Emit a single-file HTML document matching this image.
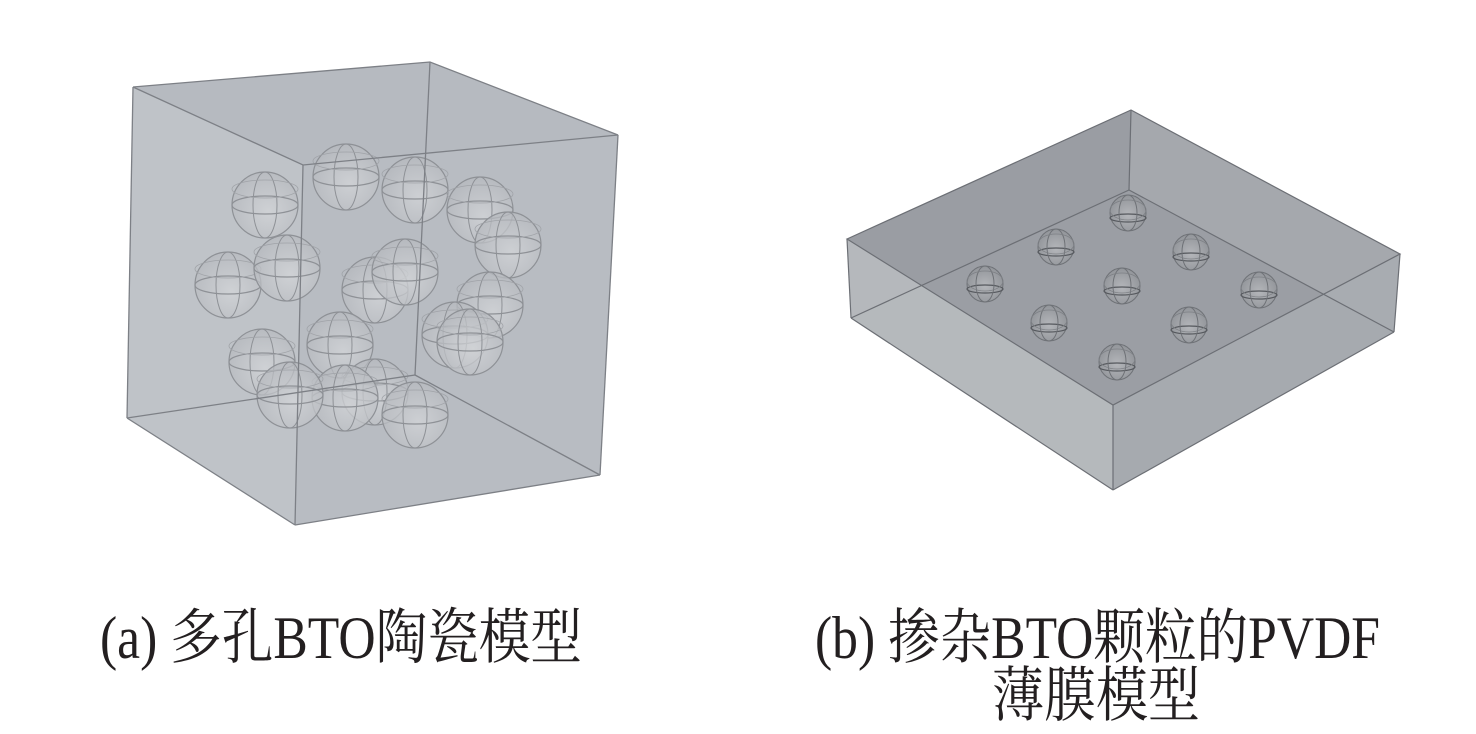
<!DOCTYPE html>
<html><head><meta charset="utf-8"><style>
html,body{margin:0;padding:0;background:#fff;width:1476px;height:734px;overflow:hidden}
text{font-family:"Liberation Serif","Noto Serif CJK SC",serif;fill:#231f20}
</style></head><body>
<svg width="1476" height="734" viewBox="0 0 1476 734" xmlns="http://www.w3.org/2000/svg">
<defs>
<radialGradient id="sg" cx="0.55" cy="0.6" r="0.6">
<stop offset="0" stop-color="#d4d6d9"/><stop offset="1" stop-color="#b6b9be"/>
</radialGradient>
<radialGradient id="sg2" cx="0.5" cy="0.55" r="0.6">
<stop offset="0" stop-color="#b4b6ba"/><stop offset="1" stop-color="#8f9297"/>
</radialGradient>
<g id="sph">
<circle r="33" fill="url(#sg)" fill-opacity="0.75" stroke="#8e9196" stroke-width="1.2"/>
<ellipse rx="33" ry="9" fill="none" stroke="#8e9196" stroke-width="1.2"/>
<ellipse rx="12" ry="33" fill="none" stroke="#8e9196" stroke-width="1"/>
<ellipse rx="33" ry="9" cy="-16" fill="none" stroke="#a0a3a8" stroke-width="0.8"/>
</g>
<g id="sb">
<circle r="18" fill="url(#sg2)" stroke="#6f7277" stroke-width="1"/>
<ellipse rx="18" ry="4" cy="5" fill="none" stroke="#55585d" stroke-width="1.2"/>
<ellipse rx="9" ry="18" fill="none" stroke="#6f7277" stroke-width="1"/>
<ellipse rx="18" ry="10" cy="-3" fill="none" stroke="#7d8085" stroke-width="0.8"/>
</g>
</defs>
<polygon points="133,87 430,62 618,135 600,475 295,525 127,418" fill="#bfc3c8"/>
<polygon points="303,165 618,135 600,475 295,525" fill="#b8bcc2"/>
<polygon points="133,87 430,62 618,135 303,165" fill="#b6bac0"/>
<g>
<use href="#sph" x="346" y="177"/>
<use href="#sph" x="265" y="205"/>
<use href="#sph" x="415" y="190"/>
<use href="#sph" x="480" y="210"/>
<use href="#sph" x="508" y="245"/>
<use href="#sph" x="228" y="285"/>
<use href="#sph" x="287" y="268"/>
<use href="#sph" x="375" y="290"/>
<use href="#sph" x="405" y="272"/>
<use href="#sph" x="490" y="305"/>
<use href="#sph" x="455" y="335"/>
<use href="#sph" x="470" y="342"/>
<use href="#sph" x="262" y="362"/>
<use href="#sph" x="340" y="345"/>
<use href="#sph" x="375" y="392"/>
<use href="#sph" x="345" y="398"/>
<use href="#sph" x="290" y="395"/>
<use href="#sph" x="415" y="415"/>
</g>
<g fill="none" stroke="#7d8086" stroke-width="1.3">
<polyline points="133,87 430,62 618,135 303,165 133,87"/>
<line x1="430" y1="62" x2="415" y2="375"/>
<line x1="415" y1="375" x2="127" y2="418"/>
<line x1="415" y1="375" x2="600" y2="475"/>
<line x1="133" y1="87" x2="127" y2="418"/>
<line x1="303" y1="165" x2="295" y2="525"/>
<line x1="618" y1="135" x2="600" y2="475"/>
<line x1="127" y1="418" x2="295" y2="525"/>
<line x1="295" y1="525" x2="600" y2="475"/>
</g>
<polygon points="1131,110 1400,254 1394,332 1113,490 851,318 847,239" fill="#a9acb1"/>
<polygon points="847,239 1131,110 1129,190 851,318" fill="#9a9da3"/>
<polygon points="1131,110 1400,254 1394,332 1129,190" fill="#a5a8ad"/>
<polygon points="1129,190 1394,332 1113,490 851,318" fill="#9b9ea4"/>
<polygon points="847,239 1113,405 1113,490 851,318" fill="#b8bbbf" fill-opacity="0.9"/>
<polygon points="1113,405 1400,254 1394,332 1113,490" fill="#a9acb1" fill-opacity="0.8"/>
<g>
<use href="#sb" x="1128" y="213"/>
<use href="#sb" x="1056" y="247"/>
<use href="#sb" x="1191" y="252"/>
<use href="#sb" x="985" y="284"/>
<use href="#sb" x="1122" y="286"/>
<use href="#sb" x="1259" y="290"/>
<use href="#sb" x="1049" y="323"/>
<use href="#sb" x="1189" y="325"/>
<use href="#sb" x="1117" y="362"/>
</g>
<g fill="none" stroke="#6c6f75" stroke-width="1.2">
<polygon points="847,239 1131,110 1400,254 1113,405"/>
<line x1="1131" y1="110" x2="1129" y2="190"/>
<line x1="1129" y1="190" x2="851" y2="318"/>
<line x1="1129" y1="190" x2="1394" y2="332"/>
<line x1="847" y1="239" x2="851" y2="318"/>
<line x1="1400" y1="254" x2="1394" y2="332"/>
<line x1="1113" y1="405" x2="1113" y2="490"/>
<line x1="851" y1="318" x2="1113" y2="490"/>
<line x1="1113" y1="490" x2="1394" y2="332"/>
</g>
<text x="100" y="658" font-size="60" textLength="482" lengthAdjust="spacingAndGlyphs">(a) 多孔BTO陶瓷模型</text>
<text x="815" y="658" font-size="60" textLength="565" lengthAdjust="spacingAndGlyphs">(b) 掺杂BTO颗粒的PVDF</text>
<text x="992" y="716" font-size="60" textLength="208" lengthAdjust="spacingAndGlyphs">薄膜模型</text>
</svg>
</body></html>
